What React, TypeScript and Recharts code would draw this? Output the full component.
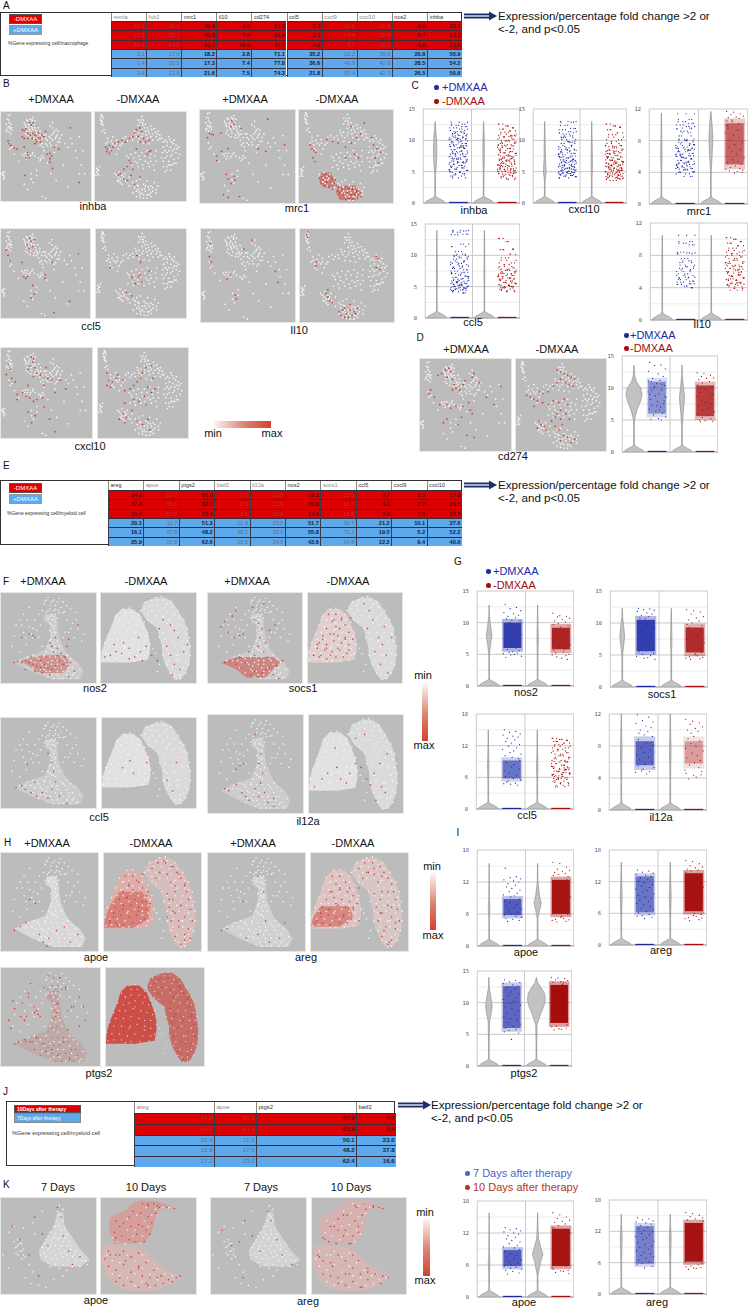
import React from "react";
import { ComposedChart, XAxis, YAxis, Area, Scatter, ReferenceLine, CartesianGrid } from "recharts";

// ---------- tables ----------
const TABLE_A_GENES = ["retnla","folr2","mrc1","il10","cd274","ccl5","cxcl9","cxcl10","nos2","inhba"];
const TABLE_A_ROWS = [
  [10.9,30.9,40.6,8.6,51.5,8.3,20.9,21.3,6.9,32.1],
  [13.8,28.3,45.9,7.9,51.0,8.1,14.4,25.4,6.7,32.3],
  [40.4,64.5,63.7,16.9,47.7,4.6,5.7,19.2,6.8,21.8],
  [3.1,17.0,18.2,3.8,71.1,35.2,52.2,35.8,20.8,50.9],
  [1.4,35.2,17.3,7.4,77.8,36.6,40.8,42.6,28.5,54.2],
  [3.4,13.5,21.6,7.5,74.3,21.8,50.4,42.3,26.5,50.6],
];
const TABLE_A_DIM = [0,1,6,7];
const TABLE_E_GENES = ["areg","apoe","ptgs2","batf2","il12a","nos2","socs1","ccl5","cxcl9","cxcl10"];
const TABLE_E_ROWS = [
  [34.3,52.7,81.6,3.9,10.5,18.3,15.5,3.7,2.5,17.8],
  [37.0,35.6,83.1,2.3,12.5,20.6,18.7,4.1,2.7,20.5],
  [25.4,57.7,72.4,2.1,12.0,14.0,15.8,2.9,1.6,16.7],
  [20.1,11.7,51.3,21.9,25.0,51.7,39.7,21.2,10.1,37.6],
  [16.1,27.8,48.2,38.1,28.0,55.8,70.1,19.5,5.2,52.2],
  [25.9,22.8,62.6,15.5,24.6,43.6,34.8,12.2,9.4,40.0],
];
const TABLE_E_DIM = [1,3,4,6];
const TABLE_J_GENES = ["areg","apoe","ptgs2","batf2"];
const TABLE_J_ROWS = [
  [43.8,66.9,87.0,5.7],
  [49.2,63.4,83.9,5.4],
  [20.4,11.5,50.1,23.0],
  [15.8,27.5,48.2,37.8],
  [27.2,23.5,62.4,16.6],
];
const TABLE_J_DIM = [0,1];

// ---------- embedding maps: x,y pairs in percent of a panel ----------
const MAC_P = [8,4,10,3,7,8,9,12,11,14,8,17,10,19,12,21,9,23,11,25,7,20,27,14,30,10,33,8,36,6,35,11,31,15,28,18,34,16,37,14,32,20,29,22,36,20,38,18,40,24,34,25,30,27,38,27,42,28,44,22,42,18,48,26,50,30,54,28,57,26,60,22,62,28,58,32,64,34,55,35,52,38,46,36,43,33,48,44,60,40,66,30,55,16,58,18,64,22,68,26,26,50,30,47,28,53,32,52,35,48,38,50,44,55,46,50,4,68,2,72,3,76,1,70,20,56,15,48,12,40,9,36,10,42,75,40,80,36,88,28,92,44,85,52,90,60,94,70,70,60,62,78,75,85,46,96,50,98,56,70,40,66,34,76,30,88];
const MAC_P2 = [26,12,29,9,32,13,35,9,38,10,28,16,31,18,33,22,35,18,39,21,41,26,37,30,33,29,28,25,44,26,46,30,50,26,52,32,56,30,59,24,61,30,63,26,56,38,50,36,47,40,44,38,40,30,24,48,27,47,29,50,33,50,36,46,42,52,45,53,6,14,9,9,10,17,6,22,12,18,3,72,4,74,2,69,58,12,62,20,66,34,62,38,48,52,52,58,60,46,72,36,78,30,84,44,88,70,34,70,36,80,40,72,26,82];
const MAC_M = [7,3,8,5,9,7,6,9,8,11,7,13,9,15,10,20,8,22,11,24,52,5,54,9,50,12,48,15,53,15,56,14,58,18,62,16,66,19,70,22,72,26,68,28,64,25,60,24,56,22,52,20,48,24,44,22,46,28,52,28,58,30,64,32,70,32,60,36,54,35,48,34,42,32,38,30,34,28,14,30,18,33,20,28,24,32,12,36,16,38,22,38,26,42,30,36,18,44,24,48,74,30,78,32,82,28,85,34,88,32,80,38,76,40,84,40,90,38,93,40,86,44,80,46,75,46,90,46,94,48,84,50,78,52,88,54,82,56,74,52,90,58,86,60,80,62,84,66,78,68,35,50,40,48,45,46,52,46,58,44,62,48,68,44,38,55,44,56,50,54,56,56,62,56,68,56,36,62,42,64,48,62,54,64,60,62,66,66,2,64,4,66,3,70,1,72,5,62,22,70,26,74,30,72,34,78,28,80,38,74,42,80,46,78,50,76,54,82,58,78,62,84,66,80,44,86,48,88,52,92,56,90,60,94,64,90,68,88,42,92,46,96,50,97,54,98,58,98,62,96,38,84,70,84,27,68,31,76,25,78,33,70,47,83,55,87,59,85,49,91];
const MAC_M2 = [8,4,6,6,7,10,8,14,48,9,51,9,53,12,55,18,59,21,63,20,67,23,69,25,62,28,57,26,53,25,49,30,45,25,41,28,36,33,31,30,72,30,76,34,80,34,83,31,87,36,91,42,88,42,82,44,78,44,92,52,86,48,80,50,76,56,84,60,88,58,82,60,76,62,80,66,14,34,20,36,24,36,28,38,16,42,37,52,43,52,49,50,55,50,61,52,67,50,41,60,47,58,53,60,59,58,65,60,24,72,28,76,32,74,36,80,30,82,26,78,44,82,48,84,52,88,56,84,60,88,64,86,68,92,46,90,50,94,54,94,58,94,62,92,3,66,2,68,4,72];
const MYE_P = [50,5,56,8,62,6,66,10,46,12,52,14,58,14,64,16,70,14,74,18,44,20,50,20,56,20,48,26,52,26,56,26,60,28,50,30,54,30,46,28,58,32,54,36,56,40,58,44,52,42,54,48,58,50,52,54,56,56,60,54,62,60,50,60,54,64,58,66,30,16,24,24,20,30,16,36,36,30,30,38,38,42,42,36,24,44,32,46,34,50,14,48,70,30,76,34,82,40,72,44,78,50,88,46,66,50,20,76,28,72,34,70,40,74,46,70,36,78,44,80,50,78,54,76,60,76,66,74,70,70,42,86,48,88,54,92,60,92,64,84,70,80,74,74,78,78,72,88,76,92,80,96,84,86,82,94,66,96,58,84,50,94,47,9,61,19,68,21,80,22,40,24,27,58,44,60,12,60,20,66];
const MYE_P2 = [48,8,54,10,60,10,52,18,58,18,62,22,66,22,48,22,54,24,58,24,50,28,56,30,52,34,57,37,55,44,57,46,53,52,57,60,52,62,56,64,48,66,46,72,52,72,58,72,64,72,68,76,60,80,54,80,48,82,42,78,38,72,32,76,26,76,46,86,52,88,60,88,66,88,72,84,76,84,78,90,74,96,70,92,62,96,56,96,34,84,40,90,22,36,28,30,34,40,40,50,26,50,74,40,80,30,86,54,68,44];
const MYE_M = [24,18,30,17,16,26,40,24,12,36,46,33,8,46,50,44,4,56,52,58,1,66,50,68,2,75,20,77,35,76,44,75,58,5,64,4,48,10,74,10,42,20,82,20,50,30,88,30,60,40,92,40,62,50,94,50,66,60,95,60,66,70,95,70,70,80,93,80,74,90,90,90,80,97,84,96,55,62,58,68,62,80,60,88,20,30,30,40,40,60,25,60,72,30,80,50,82,70];
const MYE_M2 = [26,22,32,22,20,30,26,28,34,28,40,30,18,38,24,36,30,34,38,36,44,38,14,44,20,44,28,42,36,44,42,46,48,48,10,52,18,52,26,50,34,52,40,54,46,54,8,60,16,60,24,62,32,58,40,64,46,62,6,68,14,68,22,70,30,68,38,70,46,70,8,74,16,74,26,76,54,8,60,8,66,8,70,12,52,14,60,14,68,16,76,16,46,18,54,20,62,20,70,22,78,24,50,24,58,26,66,26,74,28,84,28,54,32,70,34,76,36,84,36,88,38,66,44,74,44,82,44,90,46,68,52,76,54,86,54,92,54,70,62,78,60,88,62,72,68,80,70,90,68,72,76,82,76,90,78,76,84,84,86,88,84,78,92,84,92];
const KP = [62,8,66,12,62,18,60,24,66,24,56,30,62,30,68,32,52,36,58,38,64,38,70,38,48,44,54,46,60,44,66,46,72,46,44,52,50,54,56,56,62,54,68,56,74,54,78,60,42,60,48,62,54,64,60,64,66,62,72,66,80,66,86,66,92,70,84,72,52,72,62,74,70,76,14,46,18,44,22,48,16,52,20,56,24,54,18,60,22,64,26,62,8,36,14,30,24,32,34,26,44,14,36,38,30,70,34,78,26,84,32,90,40,92,48,94,56,86,66,82,2,60,8,74];
const KP2 = [60,14,64,20,58,30,64,34,50,40,56,42,62,42,68,42,74,50,46,48,52,50,58,50,64,50,70,50,80,56,46,58,52,58,58,60,64,58,70,60,76,62,84,60,90,66,50,68,58,70,66,70,76,72,18,50,22,56,16,58,20,48,24,60];
const KM = [44,6,50,8,56,6,62,10,34,14,42,16,50,20,58,16,16,24,24,26,32,30,40,28,48,34,54,26,14,36,22,40,30,44,38,38,46,46,52,38,8,56,16,60,24,56,32,62,40,58,8,72,16,76,24,70,32,78,40,72,48,68,56,76,64,82,72,86,80,84,16,88,24,92,32,88,40,94,48,90,58,92,66,90,20,60,4,64,44,82,52,84];
const KM2 = [48,10,58,12,66,10,72,10,38,18,46,24,54,18,28,22,20,30,28,34,36,34,44,40,50,30,12,42,18,46,26,48,34,40,42,48,6,60,12,66,20,68,28,60,36,66,44,60,50,66,60,74,68,80,76,82,12,80,20,82,28,84,36,80,44,74,52,80,60,86,36,92,44,88,52,94];

// ---------- marked cells of each gene: x,y pairs in percent of a panel ----------
const RED_INHBA_P = [24,20,26,21,28,19,32,12,34,15,36,12,30,24,33,26,36,24,38,26,40,27,42,29,44,30,39,31,35,30,30,30,26,30,24,28,42,24,46,26,48,28,50,22,40,34,44,34,38,36,8,33,9,36,11,38,15,41,18,42,30,49,28,52,32,52,30,46,55,47,57,50,55,53,55,57,52,48,27,72,60,40,58,64,65,42,78,18,88,80,26,40];
const RED_INHBA_M = [12,40,14,42,16,38,18,44,20,40,13,45,16,47,22,36,26,34,30,32,34,34,38,30,42,28,44,24,46,20,50,18,52,22,48,28,54,30,50,34,56,34,60,32,60,45,58,48,62,44,46,42,38,55,40,58,36,62,42,65,32,65,26,72,28,70,32,76,36,78,40,72,44,82,50,74];
const RED_MRC1_P = [10,25,12,26,8,30,14,27,22,25,34,12,36,15,33,18,44,20,30,42,23,45,18,50,18,55,28,70,30,75,36,72,37,76,33,80,25,92,30,95,42,94,62,42,70,45,90,38,72,10];
const RED_MRC1_M = [12,38,14,42,16,44,18,46,15,52,17,56,30,32,36,34,42,36,50,40,56,36,62,30,66,26,60,48,50,52,64,52,80,38,84,42,88,46,82,52,86,58,78,30,70,14,56,18,24,72,28,70,32,72,36,74,26,76,30,78,34,78,38,80,28,82,32,84,36,86,24,80,42,84,46,86,50,84,54,86,58,86,62,88,44,90,48,92,52,90,56,92,60,92,64,92,46,96,50,97,54,96,58,97,42,92,22,74,23,78,39,76,40,82,41,88,66,90,67,94,63,96];
const RED_CCL5_P = [33,10,34,14,30,18,32,22,36,20,38,12,6,24,8,30,10,36,24,38,26,54,28,56,30,54,50,52,50,56,36,64,38,74,34,78,58,38,88,28,60,95,78,82];
const RED_CCL5_M = [50,38,46,30,48,54,50,52,40,55,44,62,52,60,60,48,40,76,34,72,16,44];
const RED_IL10_P = [10,16,9,30,11,36,46,22,55,12,28,54,32,50,80,46,83,58,37,72,38,76];
const RED_IL10_M = [8,3,7,6,8,9,18,36,17,40,82,30,84,32,82,42,86,44,28,70,30,74,32,78,35,80,42,90,46,88,50,92,54,88,58,90,44,94,48,96,52,96,56,94,60,92,62,86,48,86,54,82,30,66];
const RED_CXCL10_P = [8,18,10,24,6,30,12,34,16,38,34,10,36,12,35,16,32,20,30,24,38,22,40,28,36,32,44,30,50,22,52,34,48,42,30,42,24,50,18,52,18,58,28,54,32,56,36,60,40,58,46,56,48,66,30,72,38,76,34,84,60,50,56,36,66,36,72,46,54,80,60,94];
const RED_CXCL10_M = [10,28,12,36,10,42,14,44,16,38,20,34,22,30,28,36,30,48,36,46,40,42,44,38,48,34,50,28,54,22,60,20,62,34,56,44,60,50,64,46,52,54,46,60,40,58,30,62,28,74,32,78,38,70,44,82,50,86,56,80,54,64,24,80,30,84,58,92];
const RED_CD274_P = [20,18,24,16,28,12,32,10,34,14,30,20,36,22,38,28,40,32,44,34,36,34,48,28,50,24,58,20,60,16,66,26,12,34,10,38,16,42,22,50,30,50,34,54,40,52,48,52,54,48,56,56,58,60,46,64,42,72,30,66,74,42,82,50,90,30,26,70,52,84,60,86];
const RED_CD274_M = [46,12,50,14,54,16,58,18,62,20,66,22,50,22,56,26,60,28,64,30,46,26,42,30,36,36,30,38,26,36,12,40,16,42,20,44,24,46,30,48,20,52,36,50,42,46,48,48,54,44,58,50,50,56,46,60,44,64,50,66,56,60,60,66,26,68,28,72,32,74,24,76,34,78,40,68,44,74,48,78,52,72,54,84,58,86,50,90,62,92,66,88];
const RED_NOS2_P = [14,78,18,77,22,78,26,76,30,78,34,80,38,82,42,84,46,80,50,84,54,86,58,82,62,76,66,80,60,70,56,66,54,60,52,56,58,50,60,62,64,68,68,72,70,60,74,78,78,88,72,94,52,92,44,90,36,88,48,72,42,76,32,72,36,50,30,46,34,48,82,36,72,52,22,50,26,86];
const RED_NOS2_M = [10,70,16,66,22,68,30,62,36,72,42,66,48,60,54,70,62,40,66,30,74,36,78,42,82,50,70,60,74,70,78,80,84,86,76,92,88,66,40,50,24,56,4,72,14,58,30,74,44,76,60,76,92,58];
const RED_SOCS1_P = [30,20,26,26,18,32,14,38,22,44,28,50,34,48,38,46,50,30,54,34,58,40,56,50,62,56,66,42,72,36,48,16,60,12,54,60,60,66,50,70,44,66,34,72,18,78,24,76,30,80,36,84,42,86,46,92,50,88,54,94,58,90,62,86,66,84,70,92,76,96,74,82,80,76,40,78,64,72];
const RED_SOCS1_M = [10,58,16,52,20,62,28,46,34,40,28,30,36,28,40,52,44,64,14,70,6,70,24,70,32,62,60,12,66,20,70,30,64,40,76,50,80,58,72,66,84,70,78,80,86,90,82,38,90,50,46,28];
const RED_CCL5G_P = [16,78,22,76,26,80,32,84,38,88,44,84,50,90,54,80,58,72,56,60,54,50,50,40,62,88,70,96,36,72,28,52];
const RED_CCL5G_M = [30,48,34,62,48,50,22,56,70,70,76,82,80,50];
const RED_IL12A_P = [18,76,22,78,30,72,36,80,40,84,44,88,50,76,54,84,56,70,58,60,54,50,56,40,60,80,64,90,70,94,34,52,38,50,30,56,50,20,70,86];
const RED_IL12A_M = [6,74,14,66,20,60,30,54,34,66,40,70,44,60,50,50,56,54,62,66,66,72,70,60,76,50,78,74,82,80,72,88,50,24,28,34,60,20,84,40];
const RED_APOE_P = [14,80,20,76,26,72,40,84,44,92,50,88,58,80,66,76,72,92,80,84,48,96,30,48,36,52];
const RED_APOE_M = [6,72,10,66,16,60,20,54,24,46,26,34,34,28,40,22,56,10,62,8,70,14,78,22,84,34,74,34,68,48,72,60,78,70,84,84,90,88,44,50,36,60,30,68,14,74,66,66,46,40];
const RED_AREG_P = [14,80,20,78,40,88,52,84,60,70,64,92,74,88,80,72,58,40,52,24,36,50];
const RED_AREG_M = [4,72,10,66,18,58,26,52,22,40,30,36,38,40,44,56,50,70,60,20,66,16,74,24,80,40,84,56,72,62,76,80,82,92,88,72,50,36,34,66];
const RED_PTGS2_P = [14,78,18,76,24,74,30,76,36,72,44,78,52,84,58,90,64,76,68,64,56,50,58,36,56,22,50,30,44,20,36,44,34,46,38,48,24,54,20,50,14,42,28,26,12,34,30,16,66,20,72,40,80,60,84,40,10,62,8,54,60,10,46,86,70,94];
const RED_PTGS2_M = [30,20,20,36,12,46,6,60,2,72,36,60,46,36,54,12,66,8,76,18,84,30,88,50,90,66,82,78,70,50,66,36,78,88];
const RED_LOBE_L = [22,24,30,24,26,32,36,30,20,40,30,38,40,36,44,44,16,48,24,46,32,48,40,50,48,52,12,56,20,58,28,54,36,56,44,58,10,62,18,64,26,66,34,64,42,68,6,70,12,72,20,74,30,72,38,72];
const RED_LOBE_R = [56,10,64,10,72,14,50,16,58,20,66,22,76,20,80,26,54,26,70,30,84,32,86,40,66,42,74,40,72,48,88,48,68,56,80,54,90,58,74,62,84,66,70,70,92,70,78,76,88,78,74,86,84,90,80,94];
const RED_K_APOE_7 = [12,30,20,44,30,60,36,20,44,38,50,50,60,10,64,20,66,40,72,56,76,70,84,62,40,82];
const RED_K_APOE_10 = [50,6,60,8,70,10,78,11,30,20,20,30,44,30,16,42,36,46,10,60,26,66,40,74,60,84,76,88,84,82,20,84,50,92];
const RED_K_AREG_7 = [12,34,22,50,36,24,44,40,52,56,60,14,64,24,70,44,76,60,86,70,34,84,30,46];
const RED_K_AREG_10 = [46,8,56,6,66,8,76,11,34,18,24,30,50,36,14,44,40,48,8,62,22,72,40,80,60,78,74,90,82,84,28,90,54,94];

// ---------- filled parts of the maps: y, left x, right x triples ----------
const MYE_LEFT = [18,22,34,25,15,42,35,12,46,45,8,50,55,4,52,65,1,52,75,0,50,78,0,30];
const MYE_RIGHT = [5,58,68,10,46,76,20,42,82,30,48,88,40,60,92,50,62,93,60,65,95,70,65,95,80,68,94,90,73,90,97,78,85];
const MYE_P_MASS = [24,48,58,32,46,60,36,52,60,50,52,62,65,46,68,72,26,74,78,14,82,88,32,88,97,54,84];
const NOS2_P_HOT = [70,44,68,76,20,72,82,30,72,90,40,66];
const SOCS1_P_HOT = [72,30,70,78,14,78,86,30,70,95,42,62];
const APOE_M_HOT = [40,16,40,55,6,48,68,1,46,77,0,30];
const AREG_M_HOT = [55,10,40,66,2,44,76,0,30];
const MRC1_HOT_A = [68,24,34,76,22,38,84,26,38];
const MRC1_HOT_B = [82,42,62,90,40,66,98,44,62];
const KP_MASS = [15,60,66,30,56,68,40,50,75,55,40,85,65,42,95,72,56,84];
const KM_UPPER = [3,40,58,8,30,75,12,28,62,20,10,58,30,8,56,40,10,52,48,14,46];
const KM_LOWER = [50,3,30,55,2,45,65,0,55,75,3,70,85,8,85,92,14,70,98,30,55];

// ---------- violin outlines: y, half width pairs ----------
const H12 = [0,.42,.25,.36,.5,.22,.75,.06,1,.015];
const H15 = [0,.42,.3,.36,.6,.22,.9,.06,1.2,.015];
const H18 = [0,.42,.35,.36,.7,.22,1.1,.06,1.4,.015];
const V_INHBA_P = [...H15,4.5,.015,6,.05,8,.07,10,.06,12,.02,13,.005];
const V_INHBA_M = [...H15,4.5,.015,7,.03,10,.03,13,.005];
const V_CXCL10_P = [...H15,3.5,.015,5,.06,7,.03,10,.02,13,.005];
const V_CXCL10_M = [...H15,4,.015,6,.03,9,.02,13,.005];
const V_MRC1_P = [...H12,4,.015,6,.03,9,.015,11.5,.005];
const V_MRC1_M = [...H12,4,.015,6,.05,8.5,.08,10,.05,11.7,.005];
const V_CCL5_C = [...H15,4,.012,7,.02,14,.005];
const V_IL10_C = [...H12,3.5,.012,6,.02,10.5,.005];
const V_CD274_P = [...H15,3.5,.015,5,.02,6.5,.12,8,.28,9,.34,10,.28,11,.1,12,.03,13.6,.005];
const V_CD274_M = [...H15,4,.015,6,.05,8.5,.11,10.5,.05,12,.015,13.6,.005];
const V_NOS2_P = [...H15,5,.015,6.5,.06,8,.12,9.5,.06,11,.015,12.8,.005];
const V_NOS2_M = [...H15,5,.015,7.5,.03,10,.015,12.8,.005];
const V_SOCS1_P = [...H15,5,.015,6.5,.06,8,.1,9.5,.06,11,.015,12.3,.005];
const V_SOCS1_M = [...H15,5,.015,7.5,.03,10,.015,12.3,.005];
const V_CCL5G = [...H18,5,.015,8,.03,11,.015,15,.005];
const V_IL12A = [...H12,4,.015,7.5,.035,10,.015,12,.005];
const V_APOE_P = [...H18,5,.015,7,.035,9,.015,15.5,.005];
const V_APOE_M = [...H18,5,.015,6.5,.07,8,.15,9.5,.08,12,.015,15.5,.005];
const V_AREG_I = [...H18,5,.015,9,.04,13,.015,15.7,.005];
const V_PTGS2_P = [...H15,4,.015,7,.03,8.5,.11,9.5,.14,11,.08,12.5,.015,14,.005];
const V_PTGS2_M = [...H15,4,.015,6.5,.03,8,.16,9.5,.32,10.5,.38,11.5,.34,12.5,.18,13.2,.05,14,.005];
const V_K_APOE_P = [...H18,4,.015,6.5,.035,8,.015,15.8,.005];
const V_K_APOE_M = [...H18,4,.015,6.5,.12,8,.22,9.5,.12,11,.04,13,.015,15.8,.005];
const V_K_AREG = [...H18,5,.015,9,.03,11,.04,13,.015,15.3,.005];

// ---------- jitter: horizontal places (percent of a strip) and expression levels ----------
const JX = [12,71,38,94,5,56,83,27,66,19,47,90,33,75,2,60,41,98,15,52,86,24,69,8,44,79,31,96,58,17,73,36,10,88,49,63,22,92,4,77,28,54,84,13,68,40,99,7,61,35,81,20,50,91,26,72,45,1,65,16];
const Y_INHBA_P = [12.9,12.6,12.4,12.2,12,11.8,11.6,11.4,11.3,11.1,11,10.8,10.7,10.5,10.4,10.2,10.1,9.9,9.8,9.6,9.5,9.3,9.1,9,8.8,8.7,8.5,8.3,8.2,8,7.8,7.7,7.5,7.4,7.2,7,6.9,6.7,6.5,6.4,6.2,6,5.9,5.7,5.6,5.4,5.2,5,4.9,4.7,4.5,4.3,4,10.3,9.2,7.9,6.6,5.3,8.9,7.1];
const Y_INHBA_M = [12.6,12.3,12,11.8,11.5,11.3,11,10.8,10.6,10.4,10.2,10,9.9,9.7,9.5,9.3,9.1,8.9,8.7,8.6,8.4,8.2,8,7.9,7.7,7.5,7.4,7.2,7,6.9,6.7,6.6,6.4,6.2,6.1,5.9,5.8,5.6,5.5,5.3,5.2,5,4.9,4.7,4.6,4.4,4.2,4,3.8,6.3,7.1,5.4,6.8,5.1,7.6,8.1,6,4.8,9.2,10.7];
const Y_CXCL10_P = [13,12.9,12.4,11.9,11.7,11.4,11.2,11,10.7,10.4,10.1,9.8,9.5,9.2,9,8.8,8.6,8.4,8.2,8,7.9,7.7,7.5,7.4,7.2,7,6.9,6.7,6.5,6.4,6.2,6.1,5.9,5.8,5.6,5.5,5.3,5.2,5,4.9,4.8,4.7,4.6,4.5,4.4,4.3,4.2,4,5.1,5.4,6.6,7.3,8.5,4.9,5.7,6,6.8,7.8,9.7,10.5];
const Y_CXCL10_M = [12.6,12.3,12.1,11.7,11.2,10.9,10.5,10.1,9.8,9.5,9.2,9,8.8,8.6,8.4,8.2,8,7.8,7.6,7.4,7.2,7,6.8,6.6,6.4,6.3,6.1,6,5.8,5.7,5.5,5.4,5.3,5.2,5,4.9,4.8,4.7,4.6,4.5,4.3,4.2,4,3.8,3.6,5.1,5.6,6.2,6.7,7.3,4.4,5.9,8.3,9.1,6.5,4.1,7.9,5.2,6.9,3.9];
const Y_MRC1_P = [11.4,10.7,10.4,10.2,10,9.8,9.5,9.2,9,8.6,8.2,8,7.8,7.6,7.4,7.2,7.1,6.9,6.7,6.6,6.4,6.3,6.1,6,5.8,5.7,5.5,5.4,5.2,5.1,5,4.8,4.7,4.5,4.4,4.3,4.1,4,3.8,3.5,6.2,5.3,7,4.6,6.8,5.9,7.5,4.9,8.1,9.6];
const Y_MRC1_M = [11.7,11.6,11.4,11.3,11.1,11,10.9,10.8,10.6,10.5,4,3.9,4.1,4.2,4.3,4.4,4.5,4.6,4.8,5,5.2,5.4,5.6,5.8,6,6.3,6.6,6.9,7.2,7.5,7.8,8.1,8.4,8.7,9,9.3,9.6,9.9,10.2,10.4];
const Y_CCL5_P = [14,13.9,13.7,13.4,13.3,11.8,11.4,10.6,10.2,10,9.8,9.6,9.4,9.1,8.9,8.7,8.5,8.3,8.1,7.9,7.7,7.5,7.3,7.1,6.9,6.7,6.5,6.3,6.2,6,5.9,5.7,5.6,5.5,5.3,5.2,5.1,5,4.9,4.8,4.6,4.5,4.4,4.2,4,5.8,6.6,7.2,5.4,4.7];
const Y_CCL5_M = [12.7,12.2,11,10.9,10.2,9.6,9.2,8.8,8.5,8.2,8,7.8,7.6,7.4,7.2,7,6.8,6.6,6.4,6.2,6,5.9,5.7,5.5,5.3,5.2,5,4.8,4.6,4.4,4.2,6.3,7.1,5.6,6.7,5.1,4.9,7.7];
const Y_IL10_P = [10.5,9.7,9.5,9.3,8.4,8.3,8.2,7.6,7.3,7.1,6.8,6.6,6.4,6.2,6,5.7,5.5,5.3,5.2,5,4.8,4.7,4.5,4.4,4.2,4];
const Y_IL10_M = [10.2,10,9.7,9.5,9.2,8.9,8.6,8.4,8.2,8,7.8,7.6,7.4,7.2,7,6.8,6.6,6.4,6.2,6,5.8,5.6,5.4,5.2,5,4.9,4.7,4.5,4.3,4.1,3.9,3.7,5.5,6.3,7.1,4.6,5.1,4.4,5.9,6.7];
const Y_CD274_P = [14,13.6,13.5,13,12.6,12.2,11.8,11.5,11.2,11,10.7,10.4,10,9.7,9.4,9.1,8.8,8.5,8.2,7.9,7.6,7.3,7,6.7,6.4,6.1,5.8,5.5,5.2,5.1,5,10.2,9,8,7.2,6.6,9.6,8.7,11.1,10.6];
const Y_CD274_M = [12.4,12.3,12,11.8,11.6,11.5,11.3,11,10.8,10.5,10.2,9.9,9.6,9.3,9,8.7,8.4,8.1,7.8,7.5,7.2,6.9,6.6,6.3,6,5.7,5.4,5.2,5,4.9,4.8,4.7];
const Y_NOS2_P = [12.9,12.4,12.2,11.9,11.6,11.4,11.2,11,10.8,10.6,10.4,10.3,5.3,5.2,5.1,5,4.9,4.7,4.5,5.4,5.6,5.8,6,6.3,6.7,7.2,7.7,8.2,8.7,9.2,9.7,10];
const Y_NOS2_M = [11.5,11.1,11,10.9,10.7,10.5,10.3,10.1,9.9,9.7,9.5,9.3,5.4,5.2,5,4.9,4.8,4.6,4.4,4.2,5.6,5.8,6.1,6.5,7,7.5,8,8.5,9];
const Y_SOCS1_P = [12.3,12.2,12.1,12,11.8,11.6,11.4,11.2,11,10.8,10.7,5.3,5.1,4.9,4.8,4.6,4.5,4.3,5.5,5.7,5.9,6.3,6.8,7.3,7.8,8.3,8.8,9.3,9.8,10.3];
const Y_SOCS1_M = [12.1,11.9,11.7,11.4,11,10.8,10.5,10.3,10,9.8,9.6,5,4.9,4.7,4.6,4.5,4.4,4.3,5.2,5.4,5.7,6,6.4,6.9,7.4,7.9,8.4,8.9,9.3];
const Y_CCL5G_P = [15,14.7,14.5,14.2,14,13.8,13.6,13.4,13.1,12.8,12.5,12.2,11.9,11.6,11.3,11,10.7,10.4,10.1,9.8,9.5,5.1,4.9,4.8,4.7,4.5,5.3,5.5,5.8,6.1,6.4,6.8,7.2,7.6,8,8.4,8.8,9.2];
const Y_CCL5G_M = [13.4,13.2,13,12.8,12.5,12.2,11.9,11.6,11.3,11,10.7,10.4,10.1,9.8,9.5,9.2,8.9,8.6,8.3,8,7.7,7.4,7.1,6.8,6.5,6.2,5.9,5.6,5.3,5,4.8,4.5,4.2,7.5,8.1,6.9,7.2,6.6,9,5.8,7.8,6.3];
const Y_IL12A_P = [11.9,11.6,11.2,11,10.8,10.5,10.3,10,9.8,9.6,9.4,9.2,4.9,4.8,4.7,4.5,5.1,5.3,5.5,5.7,6,6.3,6.6,6.9,7.2,7.5,7.8,8.1,8.4,8.8];
const Y_IL12A_M = [11.3,11.1,10.9,10.7,10.4,10.2,10,9.8,9.6,4.6,4.4,4.3,4.1,3.9,4.8,5,5.3,5.6,5.9,6.2,6.5,6.8,7.1,7.4,7.7,8,8.3,8.6,8.9,9.2];
const Y_APOE_P = [14.6,13,12.8,12.6,12.4,12.2,12,11.7,11.4,11.1,10.8,10.5,10.2,9.9,9.6,9.4,9.2,5.4,5.2,5,4.8,4.6,5.6,5.8,6,6.3,6.6,6.9,7.2,7.5,7.8,8.1,8.4,8.8];
const Y_APOE_M = [15.7,15.5,14.8,14.4,14.2,14,13.8,13.6,13.4,13.2,13,5.4,5.2,5,4.9,4.8,4.6,4.5,5.6,6,6.8,7.6,8.4,9.2,10,10.8,11.6,12.4];
const Y_AREG_I_P = [14.2,14,13.8,13.6,13.4,13.2,13,12.7,12.4,12.1,11.8,11.5,11.2,10.9,10.6,10.3,10,9.7,9.4,9.1,8.8,8.5,8.2,7.9,7.6,7.3,7,6.7,6.4,6.1,5.8,5.6,5.4,5.2,5];
const Y_AREG_I_M = [16,15.8,15.4,15,14.8,14.6,14.4,14.2,14,13.8,5.8,5.6,5.4,5.2,5.1,5,4.8,4.6,6,7,8,9,10,11,12,13];
const Y_PTGS2_P = [13.6,13.5,13.3,13.2,13,12.8,12.6,12.4,12.2,12,11.7,11.4,11.1,10.8,10.5,10.2,9.9,9.6,9.3,9,8.7,8.4,8.1,7.8,7.5,7.2,6.9,6.6,6.3,6,5.8,5.6,5.4,5.2,4.2];
const Y_PTGS2_M = [14,13.9,13.8,13.6,13.5,13.3,13.2,13.1,6.3,6.2,6,5.9,5.8,5.7,6.5,7,8,9,10,11,12,12.9];
const Y_K_APOE_P = [13,12.8,12.6,12.4,12.2,12,11.8,11.5,11.2,10.9,10.6,10.3,10,9.7,9.4,9.2,5.4,5.2,5,4.8,4.5,4.3,5.6,5.8,6,6.3,6.6,6.9,7.2,7.5,7.8,8.1,8.5,8.9];
const Y_K_APOE_M = [15.8,15.4,15,14.7,14.4,14.2,14,13.7,13.4,5.2,5,4.9,4.8,4.6,4.4,5.5,5.8,6.2,7,8,9,10,11,12,13];
const Y_K_AREG_P = [14.6,14.4,14.2,14,13.8,13.6,13.4,13.1,12.8,12.5,12.2,11.9,11.6,11.3,11,10.7,10.4,10.1,9.8,9.5,9.2,8.9,8.6,8.3,8,7.7,7.4,7.1,6.8,6.5,6.2,5.9,5.6,5.3,5];
const Y_K_AREG_M = [15.6,15.4,15.1,14.8,14.6,14.4,14.2,5.6,5.4,5.2,5.1,5,4.9,4.7,5.8,6.2,7,8,9,10,11,12,13,14];
const JITTER_OFFSETS = [0, 17, 41];

// ---------- helpers ----------
const FONT = "'Liberation Sans', Arial, sans-serif";
const XY = (a: number[]) => { const o: any[] = []; for (let i = 0; i + 1 < a.length; i += 2) o.push({ x: a[i], y: a[i + 1] }); return o; };
const BANDS = (a: number[]) => { const o: any[] = []; for (let i = 0; i + 2 < a.length; i += 3) o.push({ y: a[i], b: [a[i + 1], a[i + 2]] }); return o; };
const VIO = (a: number[], c: number) => { const o: any[] = []; for (let i = 0; i + 1 < a.length; i += 2) o.push({ y: a[i], b: [c - a[i + 1], c + a[i + 1]] }); return o; };
const CLOUD = (ys: number[], col: number, off: number, passes: number[]) =>
  passes.flatMap((j) => ys.map((y, i) => ({ x: col + 0.07 + (0.78 * JX[(i + off + j) % JX.length]) / 100, y })));
const dotShape = (r: number, fill: string) => (p: any) => <circle cx={p.cx} cy={p.cy} r={r} fill={fill} />;

const T = ({ x, y, s = 11, c = "#111", a = "c", children }: any) => (
  <div style={{ position: "absolute", left: x, top: y, fontFamily: FONT, fontSize: s, color: c, whiteSpace: "nowrap", lineHeight: 1, transform: a === "c" ? "translate(-50%,-50%)" : "translate(0,-50%)" }}>{children}</div>
);
const Box = ({ x, y, w, h, style, children }: any) => (
  <div style={{ position: "absolute", left: x, top: y, width: w, height: h, boxSizing: "border-box", ...style }}>{children}</div>
);

function Tsne({ x, y, w, h, white, red, layers = [], specks, dot = 0.85 }: any) {
  const ww = w - 3, hh = h - 3;
  return (
    <Box x={x} y={y} w={w} h={h} style={{ border: "1.5px solid #e8e8e2", background: "#bcbcbc" }}>
      <ComposedChart layout="vertical" width={ww} height={hh} margin={{ top: 0, right: 0, bottom: 0, left: 0 }}>
        <XAxis type="number" dataKey="x" domain={[0, 100]} hide />
        <YAxis type="number" dataKey="y" domain={[0, 100]} hide />
        {layers.filter((l: any) => l.c === "#fff").map((l: any, i: number) => (
          <Area key={"w" + i} data={BANDS(l.r)} dataKey="b" stroke="none" fill={l.c} fillOpacity={l.o} isAnimationActive={false} dot={false} activeDot={false} />
        ))}
        <Scatter data={XY(white)} shape={dotShape(dot, "#f6f6f6")} isAnimationActive={false} />
        {layers.filter((l: any) => l.c !== "#fff").map((l: any, i: number) => (
          <Area key={"r" + i} data={BANDS(l.r)} dataKey="b" stroke="none" fill={l.c} fillOpacity={l.o} isAnimationActive={false} dot={false} activeDot={false} />
        ))}
        <Scatter data={XY(red)} shape={dotShape(dot, "#cf3d33")} isAnimationActive={false} />
        {specks ? <Scatter data={XY(specks)} shape={dotShape(dot * 0.8, "#f3e4e0")} isAnimationActive={false} /> : null}
      </ComposedChart>
    </Box>
  );
}

const BLUE = "#1c2aa6";
const RED = "#a50d0d";
function Violin({ x, y, w, h, max, ticks, minor, v1, v2, c1, c2, b1 = [], b2 = [], blue = BLUE, red = RED }: any) {
  const soft = (b: number[], c: number, col: string, k: string) => [
    <Area key={k + "o"} data={BANDS([b[0] - 0.6, c + 0.03, c + 0.89, b[1] + 0.6, c + 0.03, c + 0.89])} dataKey="b" stroke="none" fill={col} fillOpacity={b[2] * 0.4} isAnimationActive={false} dot={false} activeDot={false} />,
    <Area key={k + "i"} data={BANDS([b[0], c + 0.09, c + 0.83, b[1], c + 0.09, c + 0.83])} dataKey="b" stroke="none" fill={col} fillOpacity={b[2]} isAnimationActive={false} dot={false} activeDot={false} />,
  ];
  return (
    <Box x={x - 14} y={y - 4} w={w + 14} h={h + 8}>
      <ComposedChart layout="vertical" width={w + 14} height={h + 8} margin={{ top: 4, right: 0, bottom: 4, left: 0 }}>
        <XAxis type="number" dataKey="x" domain={[0, 4]} hide />
        <YAxis type="number" dataKey="y" domain={[0, max]} reversed ticks={ticks} interval={0} width={14} axisLine={false} tickLine={false} tick={{ fontSize: 5.5, fill: "#555", fontFamily: "'DejaVu Sans Mono', monospace" }} />
        <CartesianGrid horizontalValues={minor} vertical={false} stroke="#ececec" />
        <CartesianGrid horizontalValues={ticks} verticalValues={[0.01, 2, 3.99]} stroke="#c9c9c9" />
        <Area data={VIO(v1, 0.5)} dataKey="b" stroke="#7a7a7a" strokeWidth={0.5} fill="#c2c2c2" fillOpacity={1} isAnimationActive={false} dot={false} activeDot={false} />
        <Area data={VIO(v2, 2.5)} dataKey="b" stroke="#7a7a7a" strokeWidth={0.5} fill="#c2c2c2" fillOpacity={1} isAnimationActive={false} dot={false} activeDot={false} />
        {b1.flatMap((b: number[], i: number) => soft(b, 1, blue, "a" + i))}
        {b2.flatMap((b: number[], i: number) => soft(b, 3, red, "c" + i))}
        <Scatter data={CLOUD(c1, 1, 0, b1.length ? [0] : JITTER_OFFSETS)} shape={dotShape(0.62, blue)} isAnimationActive={false} />
        <Scatter data={CLOUD(c2, 3, 23, b2.length ? [0] : JITTER_OFFSETS)} shape={dotShape(0.62, red)} isAnimationActive={false} />
        <ReferenceLine y={0} stroke="#a8a8a8" strokeWidth={1} />
        <ReferenceLine segment={[{ x: 1.07, y: max * 0.006 }, { x: 1.85, y: max * 0.006 }]} stroke={blue} strokeWidth={1.2} />
        <ReferenceLine segment={[{ x: 3.07, y: max * 0.006 }, { x: 3.85, y: max * 0.006 }]} stroke={red} strokeWidth={1.2} />
      </ComposedChart>
    </Box>
  );
}

function DataTable({ x, y, w, h, split, header, rows, genes, values, dim, widths, nRed, fs = 5.6 }: any) {
  const rowH = (h - header) / rows;
  let cx = split;
  return (
    <Box x={x} y={y} w={w} h={h} style={{ border: "1px solid #333", background: "#fff" }}>
      {genes.map((g: string, j: number) => {
        const left = cx; cx += widths[j];
        return (
          <React.Fragment key={g}>
            <Box x={left} y={0} w={widths[j]} h={header} style={{ borderLeft: "1px solid #888", fontFamily: FONT, fontSize: fs, color: dim.includes(j) ? "#888" : "#333", lineHeight: `${header}px`, paddingLeft: 1.5 }}>{g}</Box>
            {values.map((row: number[], i: number) => {
              const isRed = i < nRed;
              return (
                <Box key={i} x={left} y={header + i * rowH} w={widths[j]} h={rowH} style={{
                  background: isRed ? "#dd0000" : "#5ea9ec", borderTop: "1px solid #3a2a3a", borderLeft: "1px solid #3a3a4a",
                  fontFamily: "'Liberation Sans Narrow', 'Liberation Sans', sans-serif", fontSize: fs, fontWeight: dim.includes(j) ? 400 : 700,
                  color: dim.includes(j) ? (isRed ? "#a83c3c" : "#5f7288") : (isRed ? "#5a0c0c" : "#14233c"),
                  textAlign: "right", paddingRight: 1.5, lineHeight: `${rowH - 1}px`,
                }}>{row[j].toFixed(1)}</Box>
              );
            })}
          </React.Fragment>
        );
      })}
    </Box>
  );
}

const Arrow = ({ x, y, w }: any) => (
  <svg style={{ position: "absolute", left: x, top: y - 5 }} width={w} height={10}>
    <rect x={0} y={2.5} width={w - 7} height={5} fill="#1d2f6b" />
    <rect x={0} y={4.3} width={w - 6} height={1.4} fill="#dfe6f5" />
    <polygon points={`${w - 8},0.5 ${w},5 ${w - 8},9.5`} fill="#1d2f6b" />
  </svg>
);

const Note = ({ x, tx, y, w }: any) => (
  <>
    <Arrow x={x} y={y} w={w} />
    <T x={tx} y={y} s={11.6} a="l">Expression/percentage fold change &gt;2 or</T>
    <T x={tx} y={y + 13} s={11.6} a="l">&lt;-2, and p&lt;0.05</T>
  </>
);
const Dot = ({ x, y, c }: any) => <div style={{ position: "absolute", left: x - 2, top: y - 2, width: 4.5, height: 4.5, borderRadius: "50%", background: c }} />;
const Key = ({ x, tx, y1, y2, t1 = "+DMXAA", t2 = "-DMXAA", c1 = "#1c2aa6", c2 = "#a50d0d" }: any) => (
  <>
    <Dot x={x} y={y1} c={c1} /><T x={tx} y={y1} c={c1} a="l">{t1}</T>
    <Dot x={x} y={y2} c={c2} /><T x={tx} y={y2} c={c2} a="l">{t2}</T>
  </>
);
const VGrad = ({ x, y, w, h }: any) => <Box x={x} y={y} w={w} h={h} style={{ background: "linear-gradient(to bottom,#fdf6f5,#d9826f 55%,#d5412c)" }} />;

const R = "#cf3d33";
const W = "#fff";
const TICKS_15 = [0, 5, 10, 15], MIN_15 = [2.5, 7.5, 12.5];
const TICKS_12 = [0, 4, 8, 12], MIN_12 = [2, 6, 10];
const TICKS_18 = [0, 6, 12, 18], MIN_18 = [3, 9, 15];

export default function App() {
  const macP = [...MAC_P, ...MAC_P2];
  const macM = [...MAC_M, ...MAC_M2];
  const myePts = [...MYE_P, ...MYE_P2];
  const myeMPts = [...MYE_M, ...MYE_M2];
  const kpPts = [...KP, ...KP2];
  const lobes = [...RED_LOBE_L, ...RED_LOBE_R];
  const myeW = [{ r: MYE_LEFT, c: W, o: 0.55 }, { r: MYE_RIGHT, c: W, o: 0.45 }];
  const myeP = [{ r: MYE_P_MASS, c: W, o: 0.24 }];
  const kmW = [{ r: KM_UPPER, c: W, o: 0.4 }, { r: KM_LOWER, c: W, o: 0.4 }];
  const d2 = 0.78;
  return (
    <div style={{ position: "absolute", left: 0, top: 0, width: 749, height: 1308, background: "#fff", overflow: "hidden" }}>
      {/* A */}
      <T x={3} y={6} s={10} a="l">A</T>
      <DataTable x={0} y={12} w={462} h={64} split={110} header={8} rows={6} nRed={3} genes={TABLE_A_GENES} values={TABLE_A_ROWS} dim={TABLE_A_DIM} widths={Array(10).fill(35.1)} />
      <Box x={9} y={14} w={33} h={10} style={{ background: "#dd0000", border: "1px solid #555", color: "#fff", fontFamily: FONT, fontSize: 6, textAlign: "center", lineHeight: "9px" }}>-DMXAA</Box>
      <Box x={9} y={25} w={33} h={10} style={{ background: "#5ea9ec", border: "1px solid #999", color: "#fff", fontFamily: FONT, fontSize: 6, textAlign: "center", lineHeight: "9px" }}>+DMXAA</Box>
      <T x={8} y={43} s={5} c="#333" a="l">%Gene expressing cell/macrophage</T>
      <Note x={464} tx={498} y={16} w={33} />

      {/* B */}
      <T x={3} y={84} s={10} a="l">B</T>
      {[[51, "+DMXAA"], [138, "-DMXAA"], [245, "+DMXAA"], [337, "-DMXAA"]].map(([x, t]: any, i) => <T key={i} x={x} y={99}>{t}</T>)}
      <Tsne x={0} y={111} w={92} h={91} white={macP} red={RED_INHBA_P} />
      <Tsne x={94} y={111} w={93} h={91} white={macM} red={RED_INHBA_M} />
      <Tsne x={199} y={109} w={97} h={95} white={macP} red={RED_MRC1_P} />
      <Tsne x={298} y={109} w={96} h={95} white={macM} red={RED_MRC1_M} layers={[{ r: MRC1_HOT_A, c: R, o: 0.5 }, { r: MRC1_HOT_B, c: R, o: 0.5 }]} />
      <T x={93} y={206}>inhba</T><T x={297} y={208}>mrc1</T>
      <Tsne x={0} y={228} w={91} h={91} white={macP} red={RED_CCL5_P} />
      <Tsne x={95} y={228} w={92} h={91} white={macM} red={RED_CCL5_M} />
      <Tsne x={200} y={228} w={96} h={95} white={macP} red={RED_IL10_P} />
      <Tsne x={299} y={228} w={96} h={95} white={macM} red={RED_IL10_M} />
      <T x={91} y={326}>ccl5</T><T x={299} y={330}>Il10</T>
      <Tsne x={0} y={347} w={93} h={92} white={macP} red={RED_CXCL10_P} />
      <Tsne x={97} y={347} w={92} h={92} white={macM} red={RED_CXCL10_M} />
      <T x={90} y={446}>cxcl10</T>
      <Box x={213} y={421} w={58} h={7} style={{ background: "linear-gradient(to right,#fdf6f5,#d9826f 55%,#d5412c)" }} />
      <T x={213} y={433}>min</T><T x={272} y={433}>max</T>

      {/* C */}
      <T x={415} y={86} s={10} a="c">C</T>
      <Key x={436} tx={442} y1={87} y2={101} />
      <Violin x={423} y={109} w={97} h={94} max={15} ticks={TICKS_15} minor={MIN_15} v1={V_INHBA_P} v2={V_INHBA_M} c1={Y_INHBA_P} c2={Y_INHBA_M} />
      <Violin x={533} y={109} w={94} h={94} max={15} ticks={TICKS_15} minor={MIN_15} v1={V_CXCL10_P} v2={V_CXCL10_M} c1={Y_CXCL10_P} c2={Y_CXCL10_M} />
      <Violin x={649} y={109} w={99} h={95} max={12} ticks={TICKS_12} minor={MIN_12} v1={V_MRC1_P} v2={V_MRC1_M} c1={Y_MRC1_P} c2={Y_MRC1_M} b2={[[5, 10.2, 0.55]]} />
      <T x={474} y={210}>inhba</T><T x={584} y={209}>cxcl10</T><T x={699} y={211}>mrc1</T>
      <Violin x={425} y={224} w={95} h={94} max={15} ticks={TICKS_15} minor={MIN_15} v1={V_CCL5_C} v2={V_CCL5_C} c1={Y_CCL5_P} c2={Y_CCL5_M} />
      <Violin x={650} y={223} w={98} h={97} max={12} ticks={TICKS_12} minor={MIN_12} v1={V_IL10_C} v2={V_IL10_C} c1={Y_IL10_P} c2={Y_IL10_M} />
      <T x={473} y={322}>ccl5</T><T x={702} y={324}>Il10</T>

      {/* D */}
      <T x={420} y={338} s={10}>D</T>
      <T x={466} y={349}>+DMXAA</T><T x={557} y={349}>-DMXAA</T>
      <Tsne x={419} y={358} w={93} h={94} white={macP} red={RED_CD274_P} />
      <Tsne x={515} y={358} w={92} h={94} white={macM} red={RED_CD274_M} />
      <T x={513} y={456}>cd274</T>
      <Key x={626} tx={630} y1={335} y2={348} />
      <Violin x={622} y={356} w={96} h={96} max={15} ticks={TICKS_15} minor={MIN_15} v1={V_CD274_P} v2={V_CD274_M} c1={Y_CD274_P} c2={Y_CD274_M} b1={[[6, 11, 0.42]]} b2={[[5.6, 10.4, 0.72]]} />

      {/* E */}
      <T x={3} y={466} s={10} a="l">E</T>
      <DataTable x={0} y={480} w={462} h={65} split={107} header={9} rows={6} nRed={3} genes={TABLE_E_GENES} values={TABLE_E_ROWS} dim={TABLE_E_DIM} widths={Array(10).fill(35.4)} />
      <Box x={9} y={483} w={33} h={10} style={{ background: "#dd0000", border: "1px solid #555", color: "#fff", fontFamily: FONT, fontSize: 6, textAlign: "center", lineHeight: "9px" }}>-DMXAA</Box>
      <Box x={9} y={494} w={33} h={10} style={{ background: "#5ea9ec", border: "1px solid #999", color: "#fff", fontFamily: FONT, fontSize: 6, textAlign: "center", lineHeight: "9px" }}>+DMXAA</Box>
      <T x={7} y={513} s={5} c="#333" a="l">%Gene expressing cell/myeloid cell</T>
      <Note x={464} tx={498} y={485} w={33} />

      {/* F */}
      <T x={3} y={582} s={10} a="l">F</T>
      {[[43, "+DMXAA"], [146, "-DMXAA"], [247, "+DMXAA"], [348, "-DMXAA"]].map(([x, t]: any, i) => <T key={i} x={x} y={581}>{t}</T>)}
      <Tsne x={0} y={592} w={97} h={92} white={myePts} red={RED_NOS2_P} layers={[...myeP, { r: NOS2_P_HOT, c: R, o: 0.38 }]} dot={d2} />
      <Tsne x={100} y={592} w={97} h={92} white={myeMPts} red={RED_NOS2_M} layers={myeW} dot={d2} />
      <Tsne x={207} y={592} w={96} h={92} white={myePts} red={RED_SOCS1_P} layers={[...myeP, { r: SOCS1_P_HOT, c: R, o: 0.48 }]} dot={d2} />
      <Tsne x={307} y={592} w={96} h={92} white={myeMPts} red={[...RED_SOCS1_M, ...RED_LOBE_L]} layers={[...myeW, { r: MYE_LEFT, c: R, o: 0.1 }]} dot={d2} />
      <T x={95} y={688}>nos2</T><T x={303} y={688}>socs1</T>
      <Tsne x={0} y={717} w={97} h={92} white={myePts} red={RED_CCL5G_P} layers={myeP} dot={d2} />
      <Tsne x={101} y={717} w={96} h={92} white={myeMPts} red={RED_CCL5G_M} layers={myeW} dot={d2} />
      <Tsne x={207} y={714} w={97} h={100} white={myePts} red={RED_IL12A_P} layers={myeP} dot={d2} />
      <Tsne x={308} y={714} w={96} h={100} white={myeMPts} red={RED_IL12A_M} layers={myeW} dot={d2} />
      <T x={99} y={817}>ccl5</T><T x={308} y={821}>il12a</T>
      <T x={423} y={675}>min</T><VGrad x={422} y={683} w={6} h={58} /><T x={424} y={745}>max</T>

      {/* G */}
      <T x={458} y={562} s={10}>G</T>
      <Key x={488} tx={493} y1={571} y2={585} />
      <Violin x={477} y={591} w={97} h={95} max={15} ticks={TICKS_15} minor={MIN_15} v1={V_NOS2_P} v2={V_NOS2_M} c1={Y_NOS2_P} c2={Y_NOS2_M} b1={[[6, 10, 0.85]]} b2={[[5.8, 9.2, 0.85]]} />
      <Violin x={610} y={591} w={98} h={96} max={15} ticks={TICKS_15} minor={MIN_15} v1={V_SOCS1_P} v2={V_SOCS1_M} c1={Y_SOCS1_P} c2={Y_SOCS1_M} b1={[[5.6, 10.5, 0.85]]} b2={[[5.4, 9.3, 0.8]]} />
      <T x={526} y={692}>nos2</T><T x={662} y={694}>socs1</T>
      <Violin x={476} y={714} w={98} h={95} max={18} ticks={TICKS_18} minor={MIN_18} v1={V_CCL5G} v2={V_CCL5G} c1={Y_CCL5G_P} c2={Y_CCL5G_M} b1={[[5.8, 9.2, 0.55]]} />
      <Violin x={609} y={714} w={98} h={96} max={12} ticks={TICKS_12} minor={MIN_12} v1={V_IL12A} v2={V_IL12A} c1={Y_IL12A_P} c2={Y_IL12A_M} b1={[[5.6, 8.6, 0.62]]} b2={[[5.8, 8.6, 0.32]]} />
      <T x={527} y={815}>ccl5</T><T x={661} y={817}>il12a</T>

      {/* H */}
      <T x={4} y={843} s={10} a="l">H</T>
      {[[47, "+DMXAA"], [151, "-DMXAA"], [253, "+DMXAA"], [353, "-DMXAA"]].map(([x, t]: any, i) => <T key={i} x={x} y={843}>{t}</T>)}
      <Tsne x={0} y={852} w={99} h={100} white={myePts} red={RED_APOE_P} layers={[{ r: MYE_P_MASS, c: W, o: 0.42 }]} dot={d2} />
      <Tsne x={103} y={852} w={99} h={100} white={myeMPts} red={[...RED_APOE_M, ...lobes]} layers={[...myeW, { r: MYE_LEFT, c: R, o: 0.3 }, { r: MYE_RIGHT, c: R, o: 0.18 }, { r: APOE_M_HOT, c: R, o: 0.4 }]} dot={d2} />
      <Tsne x={207} y={852} w={99} h={100} white={myePts} red={RED_AREG_P} layers={[{ r: MYE_P_MASS, c: W, o: 0.32 }]} dot={d2} />
      <Tsne x={310} y={852} w={99} h={100} white={myeMPts} red={[...RED_AREG_M, ...lobes]} layers={[...myeW, { r: MYE_LEFT, c: R, o: 0.18 }, { r: MYE_RIGHT, c: R, o: 0.12 }, { r: AREG_M_HOT, c: R, o: 0.45 }]} dot={d2} />
      <T x={96} y={957}>apoe</T><T x={306} y={957}>areg</T>
      <Tsne x={0} y={967} w={101} h={100} white={myePts} red={[...RED_PTGS2_P, ...MYE_P2]} layers={[{ r: MYE_P_MASS, c: R, o: 0.14 }]} dot={d2} />
      <Tsne x={105} y={967} w={100} h={100} white={[]} red={[...RED_PTGS2_M, ...lobes]} specks={myeMPts} layers={[{ r: MYE_LEFT, c: R, o: 0.85 }, { r: MYE_RIGHT, c: R, o: 0.62 }]} dot={d2} />
      <T x={99} y={1073}>ptgs2</T>
      <T x={432} y={866}>min</T><VGrad x={430} y={873} w={6} h={57} /><T x={433} y={935}>max</T>

      {/* I */}
      <T x={458} y={833} s={10}>I</T>
      <Violin x={477} y={850} w={97} h={96} max={18} ticks={TICKS_18} minor={MIN_18} v1={V_APOE_P} v2={V_APOE_M} c1={Y_APOE_P} c2={Y_APOE_M} b1={[[5.8, 8.8, 0.68]]} b2={[[6, 12.4, 0.95]]} />
      <Violin x={609} y={850} w={98} h={95} max={18} ticks={TICKS_18} minor={MIN_18} v1={V_AREG_I} v2={V_AREG_I} c1={Y_AREG_I_P} c2={Y_AREG_I_M} b1={[[6.2, 13, 0.55]]} b2={[[6.4, 13.6, 0.97]]} />
      <T x={526} y={952}>apoe</T><T x={661} y={950}>areg</T>
      <Violin x={477} y={971} w={95} h={95} max={15} ticks={TICKS_15} minor={MIN_15} v1={V_PTGS2_P} v2={V_PTGS2_M} c1={Y_PTGS2_P} c2={Y_PTGS2_M} b1={[[6, 12.6, 0.62]]} b2={[[6.8, 12.8, 1]]} />
      <T x={524} y={1073}>ptgs2</T>

      {/* J */}
      <T x={3} y={1092} s={10} a="l">J</T>
      <DataTable x={6} y={1101} w={389} h={65} split={127} header={11} rows={5} nRed={2} genes={TABLE_J_GENES} values={TABLE_J_ROWS} dim={TABLE_J_DIM} widths={[80, 42, 100, 40]} fs={6} />
      <Box x={14} y={1105} w={67} h={8} style={{ background: "#dd0000", border: "1px solid #555", color: "#fff", fontFamily: FONT, fontSize: 5, fontWeight: 700, paddingLeft: 2, lineHeight: "7px" }}>10Days after therapy</Box>
      <Box x={14} y={1113} w={67} h={10} style={{ background: "#5ea9ec", border: "1px solid #888", color: "#fff", fontFamily: FONT, fontSize: 5, paddingLeft: 2, lineHeight: "9px" }}>7Days after therapy</Box>
      <T x={12} y={1134} s={5.6} c="#333" a="l">%Gene expressing cell/myeloid cell</T>
      <Note x={398} tx={431} y={1105} w={33} />

      {/* K */}
      <T x={3} y={1185} s={10} a="l">K</T>
      {[[58, "7 Days"], [146, "10 Days"], [261, "7 Days"], [351, "10 Days"]].map(([x, t]: any, i) => <T key={i} x={x} y={1187}>{t}</T>)}
      <Tsne x={0} y={1197} w={97} h={98} white={kpPts} red={RED_K_APOE_7} layers={[{ r: KP_MASS, c: W, o: 0.38 }]} dot={d2} />
      <Tsne x={100} y={1197} w={97} h={98} white={KM2} red={[...RED_K_APOE_10, ...KM]} layers={[...kmW, { r: KM_UPPER, c: R, o: 0.36 }, { r: KM_LOWER, c: R, o: 0.2 }]} dot={d2} />
      <Tsne x={210} y={1197} w={97} h={98} white={kpPts} red={RED_K_AREG_7} layers={[{ r: KP_MASS, c: W, o: 0.34 }]} dot={d2} />
      <Tsne x={311} y={1197} w={96} h={98} white={KM} red={[...RED_K_AREG_10, ...KM2]} layers={[...kmW, { r: KM_UPPER, c: R, o: 0.24 }, { r: KM_LOWER, c: R, o: 0.2 }]} dot={d2} />
      <T x={96} y={1300}>apoe</T><T x={308} y={1301}>areg</T>
      <T x={425} y={1212}>min</T><VGrad x={423} y={1218} w={7} h={58} /><T x={425} y={1280}>max</T>
      <Key x={467} tx={473} y1={1173} y2={1187} t1="7 Days after therapy" t2="10 Days after therapy" c1="#4a68c8" c2="#b8341e" />
      <Violin x={477} y={1201} w={97} h={96} max={18} ticks={TICKS_18} minor={MIN_18} v1={V_K_APOE_P} v2={V_K_APOE_M} c1={Y_K_APOE_P} c2={Y_K_APOE_M} b1={[[5.8, 8.8, 0.68]]} b2={[[5.8, 12.8, 0.95]]} />
      <Violin x={609} y={1200} w={98} h={94} max={18} ticks={TICKS_18} minor={MIN_18} v1={V_K_AREG} v2={V_K_AREG} c1={Y_K_AREG_P} c2={Y_K_AREG_M} b1={[[5.8, 13, 0.5]]} b2={[[6.2, 13.6, 0.97]]} />
      <T x={524} y={1302}>apoe</T><T x={657} y={1302}>areg</T>
    </div>
  );
}
